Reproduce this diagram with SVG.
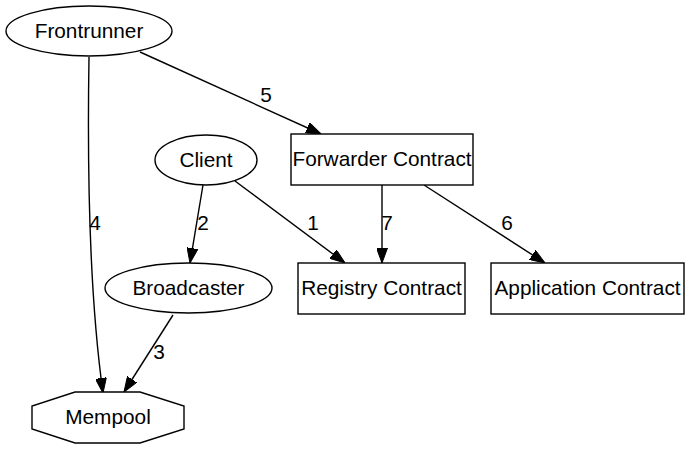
<svg xmlns="http://www.w3.org/2000/svg" width="690" height="449" viewBox="0 0 690 449">
<style>
.n{fill:#fff;stroke:#000;stroke-width:1.4}
.e{fill:none;stroke:#000;stroke-width:1.4}
text{font-family:"Liberation Sans",Arial,sans-serif;font-size:20.8px;fill:#000;text-anchor:middle}
</style>
<defs>
<marker id="ah" viewBox="0 0 15 11" refX="15" refY="5.5" markerWidth="15" markerHeight="11" markerUnits="userSpaceOnUse" orient="auto">
<path d="M0,0 L15,5.5 L0,11 z" fill="#000" stroke="#000" stroke-width="1"/>
</marker>
</defs>
<rect width="690" height="449" fill="#fff"/>
<g id="edges">
<path class="e" d="M89,57 C87,180 90,300 103,393" marker-end="url(#ah)"/>
<text x="95" y="230">4</text>
<path class="e" d="M140,52 L321,134" marker-end="url(#ah)"/>
<text x="266" y="102">5</text>
<path class="e" d="M203,185 L190,263" marker-end="url(#ah)"/>
<text x="203" y="230">2</text>
<path class="e" d="M235,181 L345,263" marker-end="url(#ah)"/>
<text x="313" y="230">1</text>
<path class="e" d="M382,185 L382,263" marker-end="url(#ah)"/>
<text x="387" y="230">7</text>
<path class="e" d="M424,185 L545,263" marker-end="url(#ah)"/>
<text x="507" y="230">6</text>
<path class="e" d="M173,315 L124,392" marker-end="url(#ah)"/>
<text x="159" y="359">3</text>
</g>
<g id="frontrunner">
<ellipse class="n" cx="89" cy="31" rx="83" ry="25"/>
<text x="89" y="38">Frontrunner</text>
</g>
<g id="client">
<ellipse class="n" cx="206" cy="160" rx="51" ry="25"/>
<text x="206" y="167">Client</text>
</g>
<g id="broadcaster">
<ellipse class="n" cx="188.5" cy="288" rx="83.5" ry="25"/>
<text x="188.5" y="295">Broadcaster</text>
</g>
<g id="mempool">
<polygon class="n" points="75,392 140,392 184,406 184,429 140,443 75,443 32,429 32,406"/>
<text x="108" y="424">Mempool</text>
</g>
<g id="forwarder">
<rect class="n" x="291" y="134" width="182" height="51"/>
<text x="382" y="166">Forwarder Contract</text>
</g>
<g id="registry">
<rect class="n" x="298" y="263" width="167" height="51"/>
<text x="381.5" y="295">Registry Contract</text>
</g>
<g id="application">
<rect class="n" x="491" y="263" width="193" height="51"/>
<text x="587.5" y="295">Application Contract</text>
</g>
</svg>
